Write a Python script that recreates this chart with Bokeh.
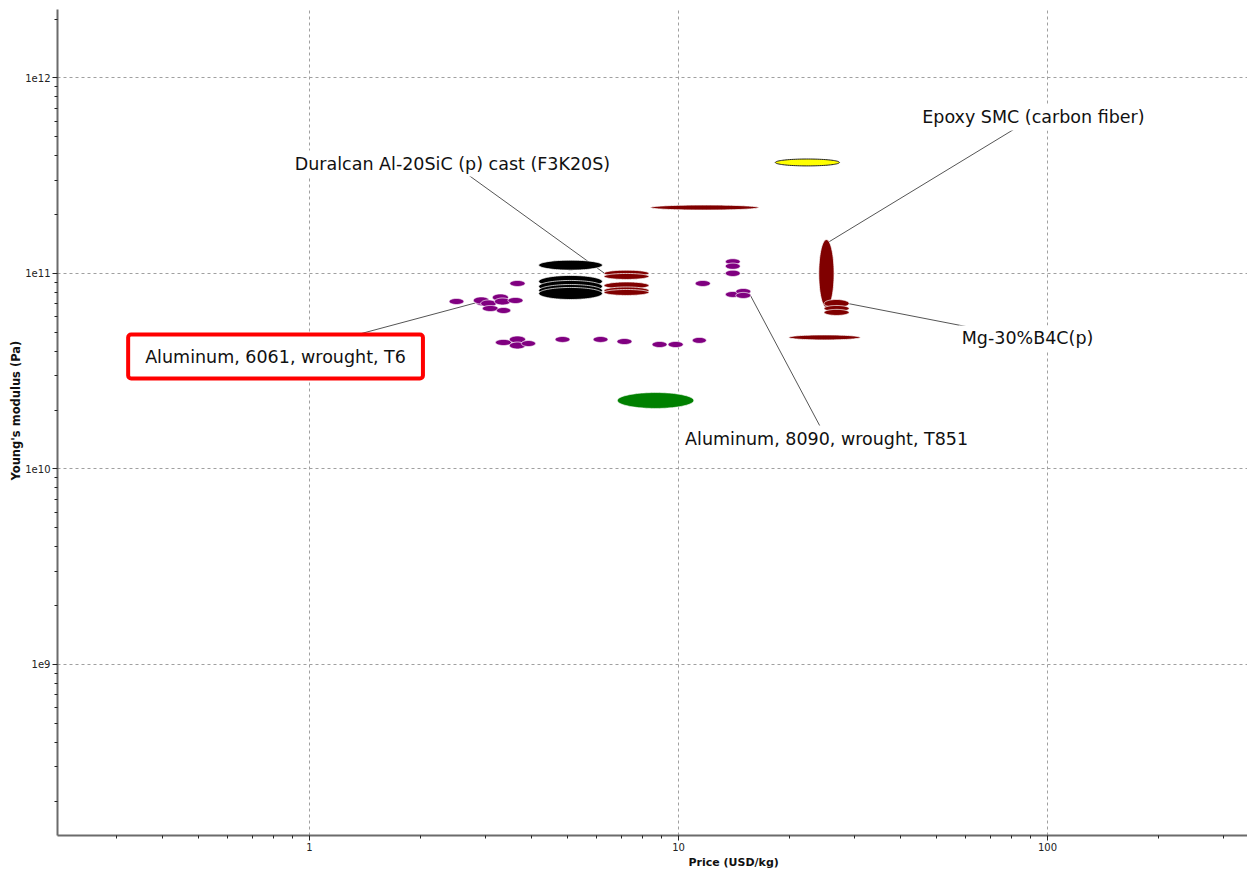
import math
import numpy as np
from bokeh.plotting import figure
from bokeh.models import Range1d, FixedTicker, Label, CustomJSTickFormatter, Title
from bokeh.embed import file_html
from bokeh.resources import INLINE

# ---------------- data: price range (USD/kg) and Young's modulus range (Pa) ----------------
# Aluminum alloys (purple)
alu_names = ["", "", "Aluminum, 6061, wrought, T6", "", "", "", "", "", "", "",
             "", "", "", "", "", "", "", "", "", "",
             "", "", "", "", "", "Aluminum, 8090, wrought, T851", ""]
alu_price_lo = [3.49, 2.39, 2.82, 2.78, 2.91, 3.13, 3.17, 3.45, 2.94, 3.21,
                3.19, 3.48, 3.48, 3.75, 4.63, 5.87, 6.81, 8.48, 9.37, 10.9,
                11.1, 13.4, 13.4, 13.4, 13.4, 14.3, 14.3]
alu_price_hi = [3.84, 2.62, 3.11, 3.07, 3.21, 3.46, 3.51, 3.79, 3.25, 3.51,
                3.53, 3.85, 3.85, 4.10, 5.08, 6.44, 7.48, 9.31, 10.3, 11.9,
                12.2, 14.7, 14.7, 14.7, 14.7, 15.7, 15.7]
alu_E_lo = [8.58e10, 6.94e10, 6.82e10, 6.98e10, 6.74e10, 7.23e10, 6.90e10, 7.02e10, 6.39e10, 6.24e10,
            4.28e10, 4.41e10, 4.11e10, 4.23e10, 4.44e10, 4.44e10, 4.33e10, 4.18e10, 4.18e10, 4.39e10,
            8.58e10, 1.11e11, 1.05e11, 9.65e10, 7.54e10, 7.81e10, 7.45e10]
alu_E_hi = [9.21e10, 7.45e10, 7.41e10, 7.59e10, 7.32e10, 7.86e10, 7.49e10, 7.54e10, 6.86e10, 6.70e10,
            4.60e10, 4.79e10, 4.46e10, 4.54e10, 4.76e10, 4.76e10, 4.65e10, 4.49e10, 4.49e10, 4.71e10,
            9.21e10, 1.19e11, 1.13e11, 1.04e11, 8.09e10, 8.38e10, 8.00e10]

# Black group
blk_names = ["", "", "", "", ""]
blk_price_lo = [4.18, 4.18, 4.18, 4.18, 4.18]
blk_price_hi = [6.22, 6.22, 6.22, 6.22, 6.22]
blk_E_lo = [1.04e11, 8.48e10, 8.00e10, 7.63e10, 7.36e10]
blk_E_hi = [1.17e11, 9.77e10, 9.21e10, 8.78e10, 8.48e10]

# Composites (dark red)
cmp_names = ["", "", "Duralcan Al-20SiC (p) cast (F3K20S)", "", "", "", "",
             "Epoxy SMC (carbon fiber)", "Mg-30%B4C(p)", "", ""]
cmp_price_lo = [8.40, 19.9, 6.28, 6.28, 6.28, 6.28, 6.28, 24.0, 24.8, 24.8, 24.8]
cmp_price_hi = [16.5, 31.1, 8.32, 8.32, 8.32, 8.32, 8.32, 26.4, 29.0, 29.0, 29.0]
cmp_E_lo = [2.11e11, 4.57e10, 9.65e10, 9.32e10, 8.33e10, 7.86e10, 7.72e10, 6.70e10, 6.70e10, 6.39e10, 6.10e10]
cmp_E_hi = [2.24e11, 4.85e10, 1.04e11, 1.00e11, 9.05e10, 8.53e10, 8.28e10, 1.49e11, 7.36e10, 6.86e10, 6.55e10]

# Yellow group
yel_price_lo = [18.3]
yel_price_hi = [27.3]
yel_E_lo = [3.55e11]
yel_E_hi = [3.85e11]

# Green group
grn_price_lo = [6.83]
grn_price_hi = [11.0]
grn_E_lo = [2.04e10]
grn_E_hi = [2.46e10]

x_major_ticks = [1, 10, 100]
y_major_ticks = [1e9, 1e10, 1e11, 1e12]

# ---------------- layout ----------------
W, H = 1247, 871
ML, MR, MT, MB = 57, 0, 9, 36
X0, X1 = 0.2075, 348.4
Y0, Y1 = 1.334e8, 2.24e12
FRAME_W = W - ML - MR
FRAME_H = H - MT - MB
PXX = FRAME_W / (math.log10(X1) - math.log10(X0))
PXY = FRAME_H / (math.log10(Y1) - math.log10(Y0))

label_pos = {
    "Duralcan Al-20SiC (p) cast (F3K20S)": (2.44, 3.65e11),
    "Epoxy SMC (carbon fiber)": (91.6, 6.28e11),
    "Mg-30%B4C(p)": (88.3, 4.65e10),
    "Aluminum, 8090, wrought, T851": (25.2, 1.43e10),
    "Aluminum, 6061, wrought, T6": (0.809, 3.76e10),
}
highlighted = "Aluminum, 6061, wrought, T6"

p = figure(width=W, height=H, x_axis_type="log", y_axis_type="log",
           x_range=Range1d(X0, X1), y_range=Range1d(Y0, Y1),
           output_backend="svg", toolbar_location=None,
           min_border_left=ML, min_border_right=MR, min_border_top=MT, min_border_bottom=MB)
p.outline_line_color = None
p.background_fill_color = "white"
p.border_fill_color = "white"

# axes
p.xaxis.ticker = FixedTicker(ticks=x_major_ticks,
                             minor_ticks=[m * 10.0 ** e for e in range(-1, 3) for m in range(2, 10)])
p.yaxis.ticker = FixedTicker(ticks=y_major_ticks,
                             minor_ticks=[m * 10.0 ** e for e in range(8, 13) for m in range(2, 10)])
p.xaxis.formatter = CustomJSTickFormatter(code="return String(Math.round(tick));")
p.yaxis.formatter = CustomJSTickFormatter(code="return '1e' + Math.round(Math.log10(tick));")
for ax in (p.xaxis, p.yaxis):
    ax.axis_line_color = "#6b6b6b"
    ax.axis_line_width = 2
    ax.major_tick_line_color = "#222222"
    ax.minor_tick_line_color = "#222222"
    ax.major_tick_out = 5
    ax.major_tick_in = 0
    ax.minor_tick_out = 3
    ax.minor_tick_in = 0
    ax.major_label_text_font = "DejaVu Sans"
    ax.major_label_text_font_size = "10px"
    ax.major_label_text_color = "#222222"
    ax.major_label_standoff = 2
p.yaxis.axis_label_standoff = 0
for g in (p.xgrid, p.ygrid):
    g.grid_line_color = "#a0a0a0"
    g.grid_line_dash = "3 3"
    g.grid_line_width = 1


def ellipse(plo, phi, elo, ehi, n=90):
    t = np.linspace(0, 2 * np.pi, n, endpoint=False)
    cx = (math.log10(plo) + math.log10(phi)) / 2
    hx = (math.log10(phi) - math.log10(plo)) / 2
    cy = (math.log10(elo) + math.log10(ehi)) / 2
    hy = (math.log10(ehi) - math.log10(elo)) / 2
    return cx + hx * np.cos(t), cy + hy * np.sin(t)


def nearest_point(plo, phi, elo, ehi, lx, ly):
    bx, by = ellipse(plo, phi, elo, ehi, n=720)
    d = ((bx - math.log10(lx)) * PXX) ** 2 + ((by - math.log10(ly)) * PXY) ** 2
    i = int(np.argmin(d))
    return 10 ** bx[i], 10 ** by[i]


groups = [
    (grn_price_lo, grn_price_hi, grn_E_lo, grn_E_hi, [""], "#008000", "white", 0.6),
    (yel_price_lo, yel_price_hi, yel_E_lo, yel_E_hi, [""], "#ffff00", "#222222", 1.0),
    (blk_price_lo, blk_price_hi, blk_E_lo, blk_E_hi, blk_names, "#000000", "white", 0.75),
    (cmp_price_lo, cmp_price_hi, cmp_E_lo, cmp_E_hi, cmp_names, "#800000", "white", 0.75),
    (alu_price_lo, alu_price_hi, alu_E_lo, alu_E_hi, alu_names, "#800080", "white", 0.75),
]

# leader lines (drawn first, under everything)
lx0, ly0, lx1, ly1 = [], [], [], []
for plo_l, phi_l, elo_l, ehi_l, names, *_ in groups:
    for plo, phi, elo, ehi, nm in zip(plo_l, phi_l, elo_l, ehi_l, names):
        if nm in label_pos:
            tx, ty = label_pos[nm]
            ex, ey = nearest_point(plo, phi, elo, ehi, tx, ty)
            lx0.append(tx); ly0.append(ty); lx1.append(ex); ly1.append(ey)
p.segment(lx0, ly0, lx1, ly1, line_color="#555555", line_width=1)

# ellipses
for plo_l, phi_l, elo_l, ehi_l, names, fill, line, lalpha in groups:
    for plo, phi, elo, ehi in zip(plo_l, phi_l, elo_l, ehi_l):
        bx, by = ellipse(plo, phi, elo, ehi)
        p.patch(list(10 ** bx), list(10 ** by), fill_color=fill, line_color=line,
                line_alpha=lalpha, line_width=1)

# annotation labels
for nm, (tx, ty) in label_pos.items():
    if nm == highlighted:
        lab = Label(x=tx, y=ty, text=nm, text_font="DejaVu Sans", text_font_size="17.5px",
                    text_color="#111111", text_align="center", text_baseline="middle",
                    background_fill_color="white", border_line_color="#ff0000",
                    border_line_width=4, border_radius=3, padding=dict(x=17, y=12))
    else:
        lab = Label(x=tx, y=ty, text=nm, text_font="DejaVu Sans", text_font_size="17.5px",
                    text_color="#111111", text_align="center", text_baseline="middle",
                    background_fill_color="white", padding=3)
    p.add_layout(lab)

# axis titles
p.add_layout(Title(text="Price (USD/kg)", align="left", offset=631, standoff=0,
                   text_font="DejaVu Sans", text_font_style="bold", text_font_size="11px",
                   text_color="#111111"), "below")
p.add_layout(Title(text="Young's modulus (Pa)", align="left", offset=355, standoff=0,
                   text_font="DejaVu Sans", text_font_style="bold", text_font_size="11.5px",
                   text_color="#111111"), "left")

open("out.html", "w").write(file_html(p, INLINE))
